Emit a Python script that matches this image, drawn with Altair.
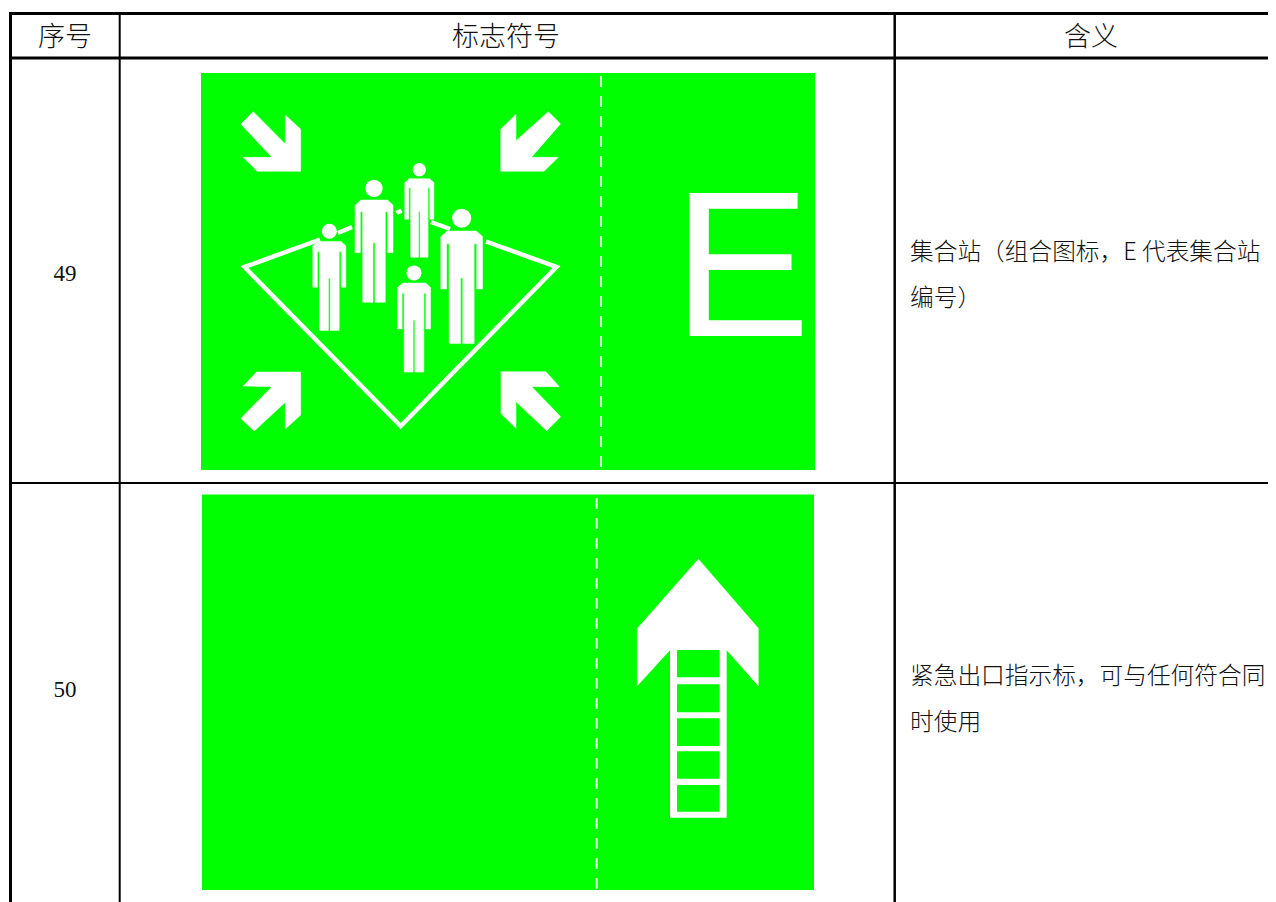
import altair as alt
import pandas as pd

# ---- table structure (page pixels) ----
H_RULE_Y = [13.5, 58, 483]
H_RULE_W = [3, 3, 2]
V_RULE_X = [10.5, 119.7, 894.7]
V_RULE_W = [3, 2, 2.5]
V_RULE_TOP = [12, 12, 12]

# ---- sign panels ----
PANEL_X = [201, 202]
PANEL_X2 = [815, 814]
PANEL_Y = [73, 494.5]
PANEL_Y2 = [470, 890]
DASH_X = [601, 596.7]
DASH_Y = [76, 498]
DASH_Y2 = [470, 890]

# ---- assembly arrows ----
ARROWS = [
    [(240.7, 124.3), (253.3, 111.7), (285.3, 144), (285.3, 115), (300.7, 129.3), (300.7, 171.3), (257.3, 171.3), (243.3, 157.3), (271.7, 157.3)],
    [(560.7, 124), (548.3, 111.7), (516, 140.7), (516, 114.3), (500.7, 129.3), (500.7, 171.3), (544, 171.3), (558.3, 157.3), (531.7, 157.3)],
    [(240.7, 418.3), (254.3, 431), (285.3, 402.3), (285.3, 429), (300.7, 415), (300.7, 372), (256.7, 372), (243.3, 386), (271.7, 386.7)],
    [(500.7, 371.7), (546, 371.7), (559.3, 386.7), (531.7, 386.7), (560.7, 416.7), (546.7, 430.7), (516, 401.7), (516, 428.3), (500.7, 413.3)],
]

# ---- diamond line (page pixels) ----
DIAMOND = [
    [(320, 239.5), (244.5, 267), (400.7, 426), (556.5, 267), (486, 241.5)],
    [(338, 233), (352, 227)],
    [(396.5, 213), (401.5, 210.5)],
    [(431, 222), (450, 229)],
]

# ---- people: outline for a unit figure, then centre / top / scale of each ----
BODY = [(-40, 60), (40, 60), (57, 75), (57, 218), (41, 218), (41, 95), (34, 95), (34, 367),
        (3, 367), (3, 188), (-3, 188), (-3, 367), (-34, 367), (-34, 95), (-41, 95), (-41, 218),
        (-57, 218), (-57, 75)]
PEOPLE_CX = [432, 568, 695, 298, 552]
PEOPLE_TOP = [90, 40, 177, 222, 347]
PEOPLE_S = [1.0, 0.768, 1.1, 0.87, 0.87]

# ---- exit arrow + ladder ----
EXIT_HEAD = [(698.3, 559), (758.3, 628.3), (758.3, 685.7), (726.7, 650), (670, 650), (637.3, 685.7), (637.3, 628.3)]
LADDER = (670, 649.3, 726.7, 817.7)
WINDOW_X = (677, 719.7)
WINDOW_Y = [650, 684.3, 718.3, 751.3, 785]
WINDOW_Y2 = [677.3, 712.3, 746, 778.7, 811.7]

# ---- text ----
HEAD_TXT = ["序号", "标志符号", "含义"]
HEAD_X = [65, 506, 1091]
HEAD_Y = [37.5, 37.5, 37.5]
BODY_TXT = ["集合站（组合图标，E 代表集合站", "编号）", "紧急出口指示标，可与任何符合同", "时使用"]
BODY_Y = [252.5, 298.5, 676.5, 722.5]
NUM_TXT = ["49", "50"]
NUM_X = [65, 65]
NUM_Y = [274, 690]
TITLE_TXT = ["表2（续）"]
TITLE_X = [665]
TITLE_Y = [-6]

WHITE = "#ffffff"
GREEN = "#00ff00"
BLACK = "#000000"
CJK = "Noto Sans CJK SC"

X = alt.Scale(domain=[8, 1268], range=[0, 1260], nice=False, zero=False)
Y = alt.Scale(domain=[902, 8], nice=False, zero=False)
xq = lambda f: alt.X(f, type="quantitative", scale=X, axis=None)
yq = lambda f: alt.Y(f, type="quantitative", scale=Y, axis=None)
x2q = lambda f: alt.X2(f)
y2q = lambda f: alt.Y2(f)


def polys(shapes):
    rows = []
    for k, pts in enumerate(shapes):
        for i, (px, py) in enumerate(pts):
            rows.append({"px": px, "py": py, "s": k, "i": i})
    return pd.DataFrame(rows)


def filled(shapes, color=WHITE):
    return alt.Chart(polys(shapes)).mark_line(filled=True, color=color, fill=color, stroke=color, strokeWidth=0.5, interpolate="linear").encode(
        x=xq("px"), y=yq("py"), detail="s:N", order="i:Q")


def rects(x, x2, y, y2, color, **kw):
    df = pd.DataFrame({"a": x, "b": x2, "c": y, "d": y2})
    return alt.Chart(df).mark_rect(color=color, **kw).encode(x=xq("a"), x2=x2q("b"), y=yq("c"), y2=y2q("d"))


people_shapes = []
heads = []
for cx, top, s in zip(PEOPLE_CX, PEOPLE_TOP, PEOPLE_S):
    people_shapes.append([(230 + (cx + dx * s) / 3, 150 + (top + dy * s) / 3) for dx, dy in BODY])
    heads.append({"px": 230 + cx / 3, "py": 150 + (top + 25 * s) / 3, "sz": (2 * 26 * s / 3) ** 2})

layers = []
# panels
layers.append(rects(PANEL_X, PANEL_X2, PANEL_Y, PANEL_Y2, GREEN))
for dx, dy, dy2 in zip(DASH_X, DASH_Y, DASH_Y2):
    layers.append(alt.Chart(pd.DataFrame({"a": [dx], "c": [dy], "d": [dy2]})).mark_rule(
        color="#dcfcdc", strokeWidth=2, strokeDash=[11, 9]).encode(x=xq("a"), y=yq("c"), y2=y2q("d")))
# sign 49
layers.append(filled(ARROWS))
diamond_df = polys(DIAMOND)
layers.append(alt.Chart(diamond_df).mark_line(color=WHITE, strokeWidth=4.5, strokeJoin="miter", strokeMiterLimit=10).encode(
    x=xq("px"), y=yq("py"), detail="s:N", order="i:Q"))
layers.append(filled(people_shapes))
layers.append(alt.Chart(pd.DataFrame(heads)).mark_circle(color=WHITE, opacity=1).encode(
    x=xq("px"), y=yq("py"), size=alt.Size("sz:Q", scale=None, legend=None)))
layers.append(alt.Chart(pd.DataFrame({"px": [672.5], "py": [335.7], "t": ["E"]})).mark_text(
    font="Liberation Sans", fontSize=207, color=WHITE, align="left", baseline="alphabetic").encode(
    x=xq("px"), y=yq("py"), text="t:N"))
# sign 50
layers.append(filled([EXIT_HEAD]))
layers.append(rects([LADDER[0]], [LADDER[2]], [LADDER[1]], [LADDER[3]], WHITE))
layers.append(rects([WINDOW_X[0]] * 5, [WINDOW_X[1]] * 5, WINDOW_Y, WINDOW_Y2, GREEN, cornerRadius=1))
# table rules
layers.append(alt.Chart(pd.DataFrame({"yy": H_RULE_Y, "w": H_RULE_W, "x0": [9] * 3, "x1": [1268] * 3})).mark_rule(color=BLACK).encode(
    x=xq("x0"), x2=x2q("x1"), y=yq("yy"), strokeWidth=alt.StrokeWidth("w:Q", scale=None, legend=None)))
layers.append(alt.Chart(pd.DataFrame({"xx": V_RULE_X, "w": V_RULE_W, "y0": V_RULE_TOP, "y1": [902] * 3})).mark_rule(color=BLACK).encode(
    x=xq("xx"), y=yq("y0"), y2=y2q("y1"), strokeWidth=alt.StrokeWidth("w:Q", scale=None, legend=None)))
# text
def texts(t, x, y, size, font=CJK, align="center", weight=300):
    df = pd.DataFrame({"t": t, "a": x, "b": y})
    return alt.Chart(df).mark_text(font=font, fontSize=size, fontWeight=weight, color="#111111", align=align, baseline="middle").encode(
        x=xq("a"), y=yq("b"), text="t:N")

layers.append(texts(TITLE_TXT, TITLE_X, TITLE_Y, 26))
layers.append(texts(HEAD_TXT, HEAD_X, HEAD_Y, 27))
layers.append(texts(BODY_TXT, [910] * 4, BODY_Y, 23.7, align="left"))
layers.append(texts(NUM_TXT, NUM_X, NUM_Y, 23, font="Liberation Serif", weight=400))

chart = alt.layer(*layers).properties(
    width=1260, height=894, padding=0, autosize=alt.AutoSizeParams(type="none"), background=WHITE
).configure_view(stroke=None).resolve_scale(size="independent", strokeWidth="independent")

chart.save("out.html", embed_options={"renderer": "svg", "actions": False})
